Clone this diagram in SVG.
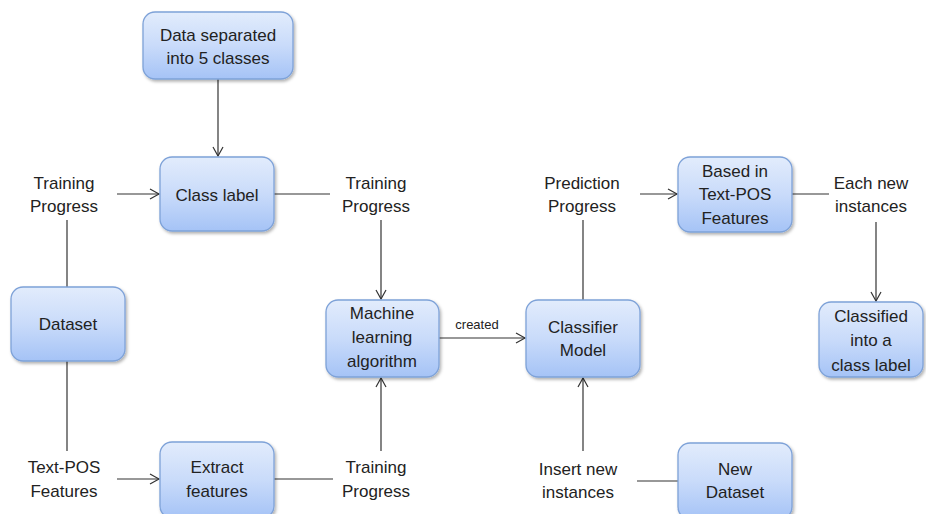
<svg xmlns="http://www.w3.org/2000/svg" width="926" height="514" viewBox="0 0 926 514">
<defs>
<linearGradient id="g" x1="0" y1="0" x2="0" y2="1">
<stop offset="0" stop-color="#e2ecfc"/>
<stop offset="0.5" stop-color="#c9dbfa"/>
<stop offset="1" stop-color="#a5c3f6"/>
</linearGradient>
<filter id="sh" x="-10%" y="-10%" width="130%" height="130%">
<feDropShadow dx="1.5" dy="2" stdDeviation="1.5" flood-color="#000" flood-opacity="0.3"/>
</filter>
<marker id="ar" markerWidth="12" markerHeight="12" refX="10" refY="6" orient="auto" markerUnits="userSpaceOnUse">
<path d="M1,1 L10,6 L1,11" fill="none" stroke="#333" stroke-width="1.2"/>
</marker>
<style>
.n rect{fill:url(#g);stroke:#7ea2d8;stroke-width:1.3;filter:url(#sh)}
text{font-family:"Liberation Sans",Arial,sans-serif;font-size:17px;fill:#222;text-anchor:middle}
.c line{stroke:#333;stroke-width:1.2}
.a{marker-end:url(#ar)}
.sm{font-size:13px}
</style>
</defs>
<rect width="926" height="514" fill="#fff"/>
<g class="c">
<line class="a" x1="218" y1="79" x2="218" y2="156"/>
<line class="a" x1="117" y1="194" x2="159" y2="194"/>
<line x1="274" y1="194" x2="330" y2="194"/>
<line x1="67" y1="220" x2="67" y2="287"/>
<line x1="67" y1="361" x2="67" y2="451"/>
<line class="a" x1="117" y1="479" x2="159" y2="479"/>
<line x1="274" y1="479" x2="333" y2="479"/>
<line class="a" x1="381" y1="220" x2="381" y2="299"/>
<line class="a" x1="381" y1="451" x2="381" y2="378"/>
<line class="a" x1="439" y1="338" x2="525" y2="338"/>
<line x1="583" y1="300" x2="583" y2="220"/>
<line class="a" x1="640" y1="194" x2="677" y2="194"/>
<line x1="792" y1="194" x2="829" y2="194"/>
<line class="a" x1="876" y1="222" x2="876" y2="301"/>
<line class="a" x1="583" y1="451" x2="583" y2="378"/>
<line x1="637" y1="481" x2="678" y2="481"/>
</g>
<g id="data-separated" class="n"><rect x="143" y="12" width="150" height="67" rx="12"/><text x="218" y="41">Data separated</text><text x="218" y="64">into 5 classes</text></g>
<g id="class-label" class="n"><rect x="160" y="157" width="114" height="74" rx="12"/><text x="217" y="201">Class label</text></g>
<g id="dataset" class="n"><rect x="11" y="287" width="114" height="74" rx="12"/><text x="68" y="330">Dataset</text></g>
<g id="extract-features" class="n"><rect x="160" y="442" width="114" height="76" rx="12"/><text x="217" y="473">Extract</text><text x="217" y="497">features</text></g>
<g id="ml-algorithm" class="n"><rect x="326" y="300" width="113" height="77" rx="12"/><text x="382" y="319">Machine</text><text x="382" y="343">learning</text><text x="382" y="367">algorithm</text></g>
<g id="classifier-model" class="n"><rect x="526" y="300" width="114" height="77" rx="12"/><text x="583" y="333">Classifier</text><text x="583" y="356">Model</text></g>
<g id="based-in" class="n"><rect x="678" y="157" width="114" height="75" rx="12"/><text x="735" y="177">Based in</text><text x="735" y="200">Text-POS</text><text x="735" y="224">Features</text></g>
<g id="classified" class="n"><rect x="819" y="302" width="104" height="75" rx="12"/><text x="871" y="322">Classified</text><text x="871" y="346">into a</text><text x="871" y="371">class label</text></g>
<g id="new-dataset" class="n"><rect x="678" y="443" width="114" height="76" rx="12"/><text x="735" y="475">New</text><text x="735" y="498">Dataset</text></g>
<g id="labels">
<text x="64" y="189">Training</text><text x="64" y="212">Progress</text>
<text x="376" y="189">Training</text><text x="376" y="212">Progress</text>
<text x="582" y="189">Prediction</text><text x="582" y="212">Progress</text>
<text x="871" y="189">Each new</text><text x="871" y="212">instances</text>
<text x="64" y="473">Text-POS</text><text x="64" y="497">Features</text>
<text x="376" y="473">Training</text><text x="376" y="497">Progress</text>
<text x="578" y="475">Insert new</text><text x="578" y="498">instances</text>
<text class="sm" x="477" y="329">created</text>
</g>
</svg>
